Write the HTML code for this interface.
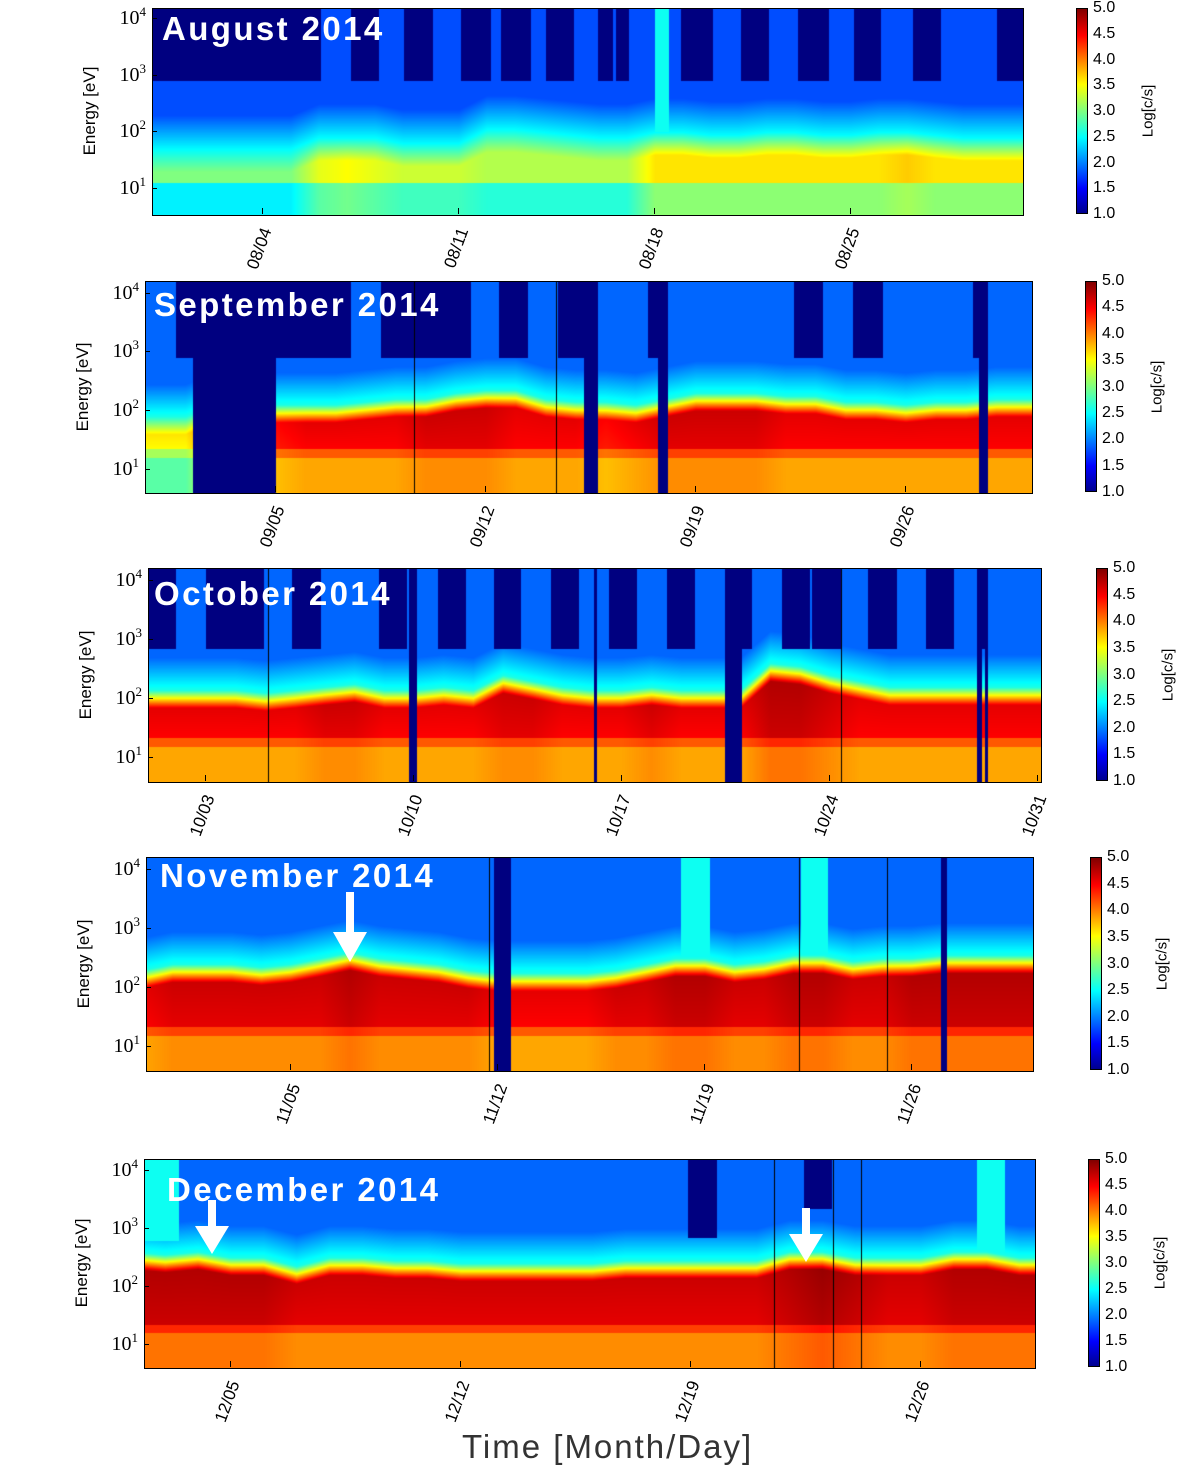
<!DOCTYPE html>
<html><head><meta charset="utf-8">
<style>
body{margin:0;background:#fff;width:1200px;height:1475px;position:relative;overflow:hidden;font-family:"Liberation Sans",sans-serif}
.abs{position:absolute}
canvas{position:absolute;border:1px solid #000;box-sizing:border-box}
.title{position:absolute;color:#fff;font-weight:bold;font-size:33px;letter-spacing:2.4px;line-height:1;white-space:nowrap}
.ytl{position:absolute;font-family:"Liberation Serif",serif;font-size:20px;text-align:right;width:40px;line-height:1}
.ytl sup{font-size:13px;vertical-align:8px}
.xtl{position:absolute;font-size:17px;white-space:nowrap;transform-origin:100% 50%;transform:rotate(-70deg);line-height:1}
.ylab{position:absolute;font-size:17px;white-space:nowrap;transform:translate(-50%,-50%) rotate(-90deg)}
.cbl{position:absolute;font-size:16px;line-height:1}
.cbt{position:absolute;font-size:15px;white-space:nowrap;transform:translate(-50%,-50%) rotate(-90deg)}
.tick{position:absolute;background:#000}
</style></head><body>
<div class="abs" style="left:462px;top:1428px;font-size:33px;letter-spacing:2px;color:#333">Time [Month/Day]</div>
<svg class="abs" style="left:0;top:0;z-index:5" width="1200" height="1475">
<g fill="#fff">
<rect x="346" y="892" width="8" height="42"/><polygon points="333,932 367,932 350,962"/>
<rect x="208" y="1200" width="8" height="28"/><polygon points="195,1226 229,1226 212,1254"/>
<rect x="802" y="1208" width="8" height="28"/><polygon points="789,1234 823,1234 806,1262"/>
</g></svg>
<script>
// ---- data (per panel, one value per day starting at day index 'first') ----
const augFirst=0;
const augLevel=[3.0,3.0,3.0,3.0,3.0,3.0,3.4,3.5,3.4,3.3,3.3,3.3,3.2,3.2,3.2,3.2,3.2,3.2,3.6,3.6,3.6,3.6,3.6,3.6,3.6,3.6,3.6,3.7,3.6,3.6,3.6,3.6];
const augTop=[1.3,1.3,1.3,1.3,1.3,1.3,1.5,1.5,1.5,1.4,1.4,1.4,1.65,1.65,1.6,1.55,1.5,1.5,1.6,1.6,1.55,1.55,1.6,1.6,1.55,1.55,1.6,1.6,1.55,1.5,1.5,1.5];
const sepFirst=0;
const sepLevel=[3.6,3.6,3.6,4.2,4.4,4.5,4.6,4.6,4.6,4.6,4.7,4.7,4.7,4.6,4.6,4.6,4.5,4.6,4.7,4.7,4.7,4.7,4.6,4.6,4.6,4.6,4.6,4.6,4.6,4.6,4.6];
const sepTop=[1.6,1.6,1.6,1.8,1.8,1.8,1.8,1.8,1.85,1.9,1.9,2.0,2.05,2.05,1.9,1.85,1.85,1.8,1.9,2.0,2.0,2.0,1.95,1.95,1.85,1.85,1.8,1.85,1.85,1.9,1.9];
const octFirst=1;
const octLevel=[4.6,4.6,4.6,4.6,4.6,4.6,4.7,4.7,4.6,4.6,4.6,4.6,4.7,4.7,4.6,4.6,4.6,4.7,4.6,4.6,4.6,4.8,4.8,4.7,4.6,4.6,4.6,4.6,4.6,4.6,4.6];
const octTop=[1.85,1.85,1.85,1.85,1.8,1.85,1.9,1.95,1.85,1.85,1.9,1.85,2.1,2.0,1.9,1.85,1.85,1.9,1.85,1.85,1.85,2.3,2.25,2.1,2.0,1.9,1.9,1.9,1.9,1.9,1.9];
const novFirst=0;
const novLevel=[4.6,4.7,4.7,4.7,4.7,4.7,4.7,4.8,4.7,4.7,4.7,4.7,4.6,4.6,4.6,4.6,4.7,4.7,4.8,4.8,4.7,4.7,4.8,4.8,4.7,4.7,4.8,4.8,4.8,4.8,4.8];
const novTop=[2.0,2.1,2.1,2.1,2.05,2.1,2.2,2.3,2.2,2.15,2.1,2.0,1.95,1.95,1.95,1.95,2.0,2.1,2.2,2.2,2.1,2.15,2.25,2.25,2.15,2.2,2.2,2.25,2.25,2.25,2.25];
const decFirst=2;
const decLevel=[4.8,4.8,4.8,4.8,4.8,4.7,4.7,4.7,4.7,4.7,4.7,4.7,4.7,4.7,4.7,4.7,4.7,4.7,4.7,4.7,4.8,4.9,4.8,4.7,4.7,4.8,4.8,4.8,4.8];
const decTop=[2.3,2.25,2.3,2.2,2.2,2.05,2.2,2.2,2.15,2.15,2.1,2.1,2.1,2.1,2.1,2.15,2.15,2.15,2.15,2.15,2.3,2.3,2.2,2.2,2.2,2.3,2.3,2.2,2.2];
// gaps: [startDay,endDay] full-height data gaps
const augGaps=[];
const sepGaps=[[2.23,5.0],[15.27,15.73],[17.73,18.07],[28.43,28.73]];
const octGaps=[[9.84,10.1],[16.06,16.16],[20.47,21.05],[28.93,29.13],[29.2,29.33]];
const novGaps=[[11.86,12.44],[26.98,27.18]];
const decGaps=[];
// masks: [startDay,endDay,lowestLogEnergy] high-energy no-data
const augMasks=[[0.07,6.07,2.9],[7.14,8.14,2.9],[9.04,10.07,2.9],[11.07,12.14,2.9],[12.5,13.57,2.9],[14.1,15.1,2.9],[15.96,16.5,2.9],[16.6,17.07,2.9],[18.93,20.07,2.9],[21.07,22.07,2.9],[23.1,24.2,2.9],[25.1,26.07,2.9],[27.2,28.2,2.9],[30.2,31.2,2.9]];
const sepMasks=[[1.67,5.57,2.9],[5.57,7.5,2.9],[8.5,11.5,2.9],[12.43,13.4,2.9],[14.4,15.73,2.9],[17.4,18.07,2.9],[22.27,23.23,2.9],[24.23,25.23,2.9],[28.23,28.73,2.9]];
const octMasks=[[1.08,1.99,2.85],[3,4.95,2.85],[5.9,6.87,2.85],[8.82,9.77,2.85],[10.81,11.75,2.85],[12.7,13.6,2.85],[14.62,15.56,2.85],[16.57,17.51,2.85],[18.52,19.46,2.85],[20.47,21.38,2.85],[22.39,23.34,2.85],[23.4,24.38,2.85],[25.29,26.27,2.85],[27.24,28.18,2.85],[28.93,29.26,2.85]];
const novMasks=[];
const decMasks=[[18.91,19.79,2.84],[22.44,23.29,3.34]];
// high-energy enhancements (cyan): [startDay,endDay,lowestLogEnergy]
const augBursts=[[18.0,18.5,2.0]];
const sepBursts=[];
const octBursts=[];
const novBursts=[[18.19,19.17,2.38],[22.25,23.16,2.38]];
const decBursts=[[2.38,3.42,2.8],[27.7,28.55,2.45]];
// thin gap lines (day)
const augLines=[];
const sepLines=[9.6,14.33];
const octLines=[5.09,24.38];
const novLines=[11.7,22.18,25.16];
const decLines=[21.52,23.32,24.17];
const yTickExp=[1,2,3,4];
const cbTicks=[1.0,1.5,2.0,2.5,3.0,3.5,4.0,4.5,5.0];

const panels=[
 {name:'august',title:'August 2014',month:'08',x:152,y:8,w:870,h:206,d0:0.07,d1:31.14,eT:4.18,eB:0.54,ticks:[4,11,18,25],cbx:1076,tx:162,ty:12,first:augFirst,L:augLevel,T:augTop,gaps:augGaps,masks:augMasks,bursts:augBursts,lines:augLines,aug:true},
 {name:'september',title:'September 2014',month:'09',x:145,y:281,w:886,h:211,d0:0.67,d1:30.2,eT:4.2,eB:0.6,ticks:[5,12,19,26],cbx:1085,tx:154,ty:288,first:sepFirst,L:sepLevel,T:sepTop,gaps:sepGaps,masks:sepMasks,bursts:sepBursts,lines:sepLines},
 {name:'october',title:'October 2014',month:'10',x:148,y:568,w:892,h:213,d0:1.08,d1:31.1,eT:4.2,eB:0.6,ticks:[3,10,17,24,31],cbx:1096,tx:154,ty:577,first:octFirst,L:octLevel,T:octTop,gaps:octGaps,masks:octMasks,bursts:octBursts,lines:octLines},
 {name:'november',title:'November 2014',month:'11',x:146,y:857,w:886,h:213,d0:0.13,d1:30.09,eT:4.2,eB:0.6,ticks:[5,12,19,26],cbx:1090,tx:160,ty:859,first:novFirst,L:novLevel,T:novTop,gaps:novGaps,masks:novMasks,bursts:novBursts,lines:novLines},
 {name:'december',title:'December 2014',month:'12',x:144,y:1159,w:890,h:208,d0:2.38,d1:29.47,eT:4.19,eB:0.6,ticks:[5,12,19,26],cbx:1088,tx:167,ty:1173,first:decFirst,L:decLevel,T:decTop,gaps:decGaps,masks:decMasks,bursts:decBursts,lines:decLines}
];
function jet(v){const t=Math.max(0,Math.min(1,(v-1)/4));const c=x=>Math.max(0,Math.min(1,1.5-Math.abs(x)));return [c(4*t-3)*255,c(4*t-2)*255,c(4*t-1)*255];}
function interp(arr,first,d){const i=d-first;const i0=Math.max(0,Math.min(arr.length-1,Math.floor(i)));const i1=Math.min(arr.length-1,i0+1);const f=Math.max(0,Math.min(1,i-i0));return arr[i0]*(1-f)+arr[i1]*f;}
function inR(list,d){for(const r of list)if(d>=r[0]&&d<=r[1])return r;return null;}
function val(e,L,T,aug){
  if(aug){ if(e<1.1) return L-0.55; if(e<=T) return L; const d=e-T; if(d<0.4) return L-(L-2.5)*d/0.4; if(d<1.0) return 2.5-0.7*(d-0.4)/0.6; return 1.8;}
  if(e<1.2) return L-0.75; if(e<1.35) return L-0.45;
  if(e<=T) return L-0.1+0.1*(e-1.35)/Math.max(0.1,T-1.35); const d=e-T;
  if(d<0.3) return L-(L-2.6)*d/0.3; if(d<0.85) return 2.6-0.7*(d-0.3)/0.55; return 1.9;
}
function make(tag,name,inter){const el=document.createElement(tag);return el;}
panels.forEach(p=>{
  const xOf=d=>(d-p.d0)/(p.d1-p.d0)*p.w;
  const yOf=e=>(p.eT-e)/(p.eT-p.eB)*p.h;
  const cv=document.createElement('canvas');
  
  
  cv.width=p.w;cv.height=p.h;cv.style.left=p.x+'px';cv.style.top=p.y+'px';
  document.body.appendChild(cv);
  const ctx=cv.getContext('2d');const img=ctx.createImageData(p.w,p.h);
  for(let x=0;x<p.w;x++){
    const d=p.d0+(x+0.5)/p.w*(p.d1-p.d0);
    const L=interp(p.L,p.first,d),T=interp(p.T,p.first,d);
    const gap=inR(p.gaps,d),mask=inR(p.masks,d),burst=inR(p.bursts,d);
    for(let y=0;y<p.h;y++){
      const e=p.eT-(y+0.5)/p.h*(p.eT-p.eB);
      let v;
      if(gap) v=1.0;
      else if(mask&&e>=mask[2]) v=1.0;
      else { v=val(e,L,T,p.aug); if(burst&&e>=burst[2]) v=Math.max(v,2.55); }
      const c=jet(v);const k=(y*p.w+x)*4;
      img.data[k]=c[0];img.data[k+1]=c[1];img.data[k+2]=c[2];img.data[k+3]=255;
    }
  }
  ctx.putImageData(img,0,0);
  ctx.fillStyle='#000';
  p.lines.forEach(d=>{ctx.fillRect(Math.round(xOf(d)),0,1,p.h);});
  const t=make('div',p.name+'-title','false');t.className='title';t.textContent=p.title;t.style.left=p.tx+'px';t.style.top=p.ty+'px';t.style.zIndex=4;document.body.appendChild(t);
  yTickExp.forEach(ex=>{
    const y=p.y+yOf(ex);
    const l=make('div',p.name+'-y-tick-label','false');l.className='ytl';l.innerHTML='10<sup>'+ex+'</sup>';l.style.left=(p.x-46)+'px';l.style.top=(y-13)+'px';document.body.appendChild(l);
    const tk=make('div',p.name+'-y-tick','false');tk.className='tick';tk.style.left=p.x+'px';tk.style.top=y+'px';tk.style.width='5px';tk.style.height='1px';tk.style.zIndex=3;document.body.appendChild(tk);
  });
  const yl=make('div',p.name+'-y-axis-title','false');yl.className='ylab';yl.textContent='Energy [eV]';yl.style.left=(p.x-62)+'px';yl.style.top=(p.y+p.h/2)+'px';document.body.appendChild(yl);
  p.ticks.forEach(d=>{
    const x=p.x+xOf(d);
    const tk=make('div',p.name+'-x-tick','false');tk.className='tick';tk.style.left=x+'px';tk.style.top=(p.y+p.h-6)+'px';tk.style.width='1px';tk.style.height='6px';tk.style.zIndex=3;document.body.appendChild(tk);
    const l=make('div',p.name+'-x-tick-label','false');l.className='xtl';l.textContent=p.month+'/'+String(d).padStart(2,'0');
    document.body.appendChild(l);const wd=l.offsetWidth;
    l.style.left=(x+5-wd)+'px';l.style.top=(p.y+p.h+6)+'px';
  });
  const cb=make('div',p.name+'-colorbar','false');cb.className='abs';
  cb.style.cssText+=';left:'+p.cbx+'px;top:'+p.y+'px;width:12px;height:'+p.h+'px;border:1px solid #000;box-sizing:border-box;background:linear-gradient(to top,#00008f 0%,#0000ff 12%,#00ffff 37%,#7fff7f 50%,#ffff00 63%,#ff0000 87%,#800000 100%)';
  document.body.appendChild(cb);
  cbTicks.forEach(v=>{
    const l=make('div',p.name+'-colorbar-tick-label','false');l.className='cbl';l.textContent=v.toFixed(1);
    l.style.left=(p.cbx+17)+'px';l.style.top=(p.y+(5-v)/4*p.h-8)+'px';document.body.appendChild(l);
  });
  const ct=make('div',p.name+'-colorbar-title','false');ct.className='cbt';ct.textContent='Log[c/s]';ct.style.left=(p.cbx+72)+'px';ct.style.top=(p.y+p.h/2)+'px';document.body.appendChild(ct);
});
</script>
</body></html>
